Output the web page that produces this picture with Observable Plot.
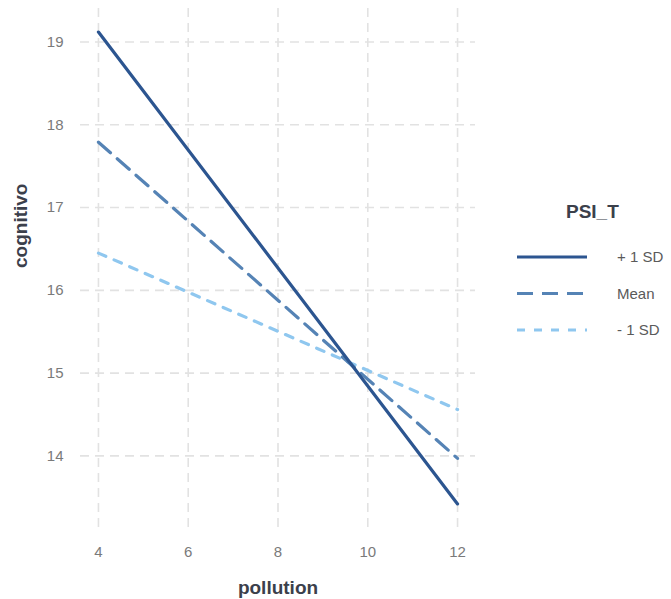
<!DOCTYPE html>
<html><head><meta charset="utf-8">
<script src="https://cdn.jsdelivr.net/npm/d3@7"></script>
<script src="https://cdn.jsdelivr.net/npm/@observablehq/plot@0.6"></script>
<style>
body{margin:0;background:#fff;font-family:"Liberation Sans",Arial,sans-serif;}
#wrap{position:relative;width:671px;height:599px;}
#legend{position:absolute;left:512px;top:201px;}
</style>
</head><body>
<div id="wrap"><div id="chart"></div><div id="legend"></div></div>
<script>
const groups = ["+ 1 SD", "Mean", "- 1 SD"];
const pollutionX = [4, 12];
const plus1SD = [19.12, 13.42];
const meanVals = [17.79, 13.97];
const minus1SD = [16.45, 14.56];
const xTicks = [4, 6, 8, 10, 12];
const yTicks = [14, 15, 16, 17, 18, 19];
const colors = ["#2c5590", "#5583b5", "#8fc7ef"];
const dashes = [null, "16,9", "8,9"];

const series = [plus1SD, meanVals, minus1SD];
const data = [];
series.forEach((vals, i) => vals.forEach((v, j) => data.push({group: groups[i], x: pollutionX[j], y: v})));

const marks = [
  Plot.gridX(xTicks, {stroke: "#e2e2e2", strokeOpacity: 1, strokeWidth: 1.6, strokeDasharray: "9,6"}),
  Plot.gridY(yTicks, {stroke: "#e2e2e2", strokeOpacity: 1, strokeWidth: 1.6, strokeDasharray: "9,6"}),
  Plot.axisX(xTicks, {tickSize: 0, tickPadding: 19, fontSize: 15, fill: "#7a7a7a", label: null, tickFormat: "d"}),
  Plot.axisY(yTicks, {tickSize: 0, tickPadding: 17, fontSize: 15, fill: "#7a7a7a", label: null, tickFormat: "d"}),
  Plot.text(["pollution"], {frameAnchor: "bottom", dy: 66, fontSize: 19, fontWeight: "bold", fill: "#3b404b"}),
  Plot.text(["cognitivo"], {frameAnchor: "left", dx: -60, rotate: -90, fontSize: 19, fontWeight: "bold", fill: "#3b404b"})
];
groups.slice().reverse().forEach((g, k) => {
  const i = groups.length - 1 - k;
  marks.push(Plot.line(data.filter(d => d.group === g), {x: "x", y: "y", stroke: colors[i], strokeWidth: 3.2, strokeDasharray: dashes[i]}));
});

const chart = Plot.plot({
  width: 671, height: 599,
  marginLeft: 80, marginRight: 196, marginTop: 8, marginBottom: 72,
  style: {fontFamily: "Liberation Sans, Arial, sans-serif", background: "#fff"},
  x: {domain: [3.6, 12.4]},
  y: {domain: [13.135, 19.405]},
  marks
});
document.getElementById("chart").appendChild(chart);

// legend
const lg = d3.select("#legend");
lg.append("div").text("PSI_T").style("font-size", "19px").style("font-weight", "bold").style("color", "#3b404b").style("margin-left", "54px").style("margin-bottom", "12px");
const sv = lg.append("svg").attr("width", 159).attr("height", 120).style("display", "block");
groups.forEach((g, i) => {
  const yy = 22 + i * 36.5;
  sv.append("line").attr("x1", 5).attr("x2", 75).attr("y1", yy).attr("y2", yy)
    .attr("stroke", colors[i]).attr("stroke-width", 3.2).attr("stroke-dasharray", dashes[i]);
  sv.append("text").attr("x", 105).attr("y", yy + 5).text(g).attr("font-size", 15).attr("fill", "#5a5a5a")
    .attr("font-family", "Liberation Sans, Arial, sans-serif");
});
</script>
</body></html>
